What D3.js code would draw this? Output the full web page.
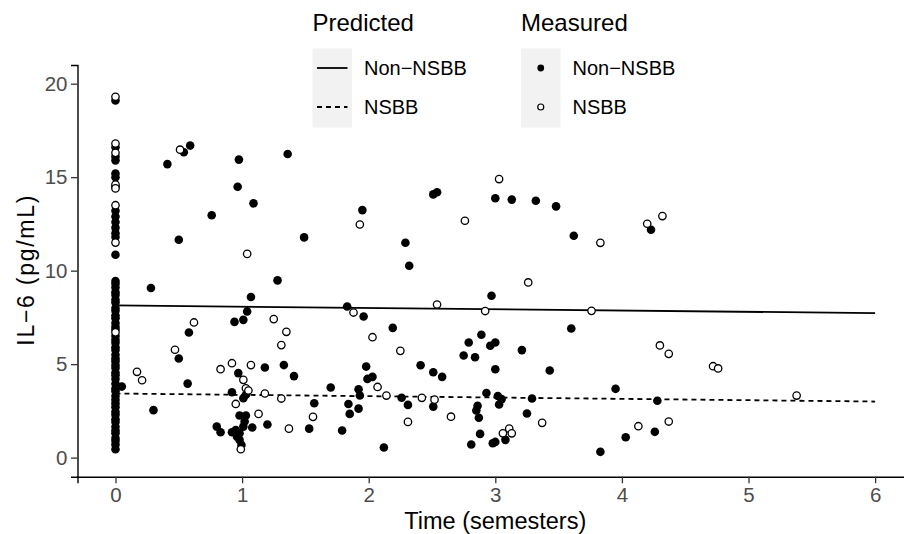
<!DOCTYPE html>
<html>
<head>
<meta charset="utf-8">
<script src="https://cdn.jsdelivr.net/npm/d3@7"></script>
<style>
  body { margin: 0; background: #fff; }
  text { font-family: "Liberation Sans", Arial, sans-serif; }
</style>
</head>
<body>
<div id="chart"></div>
<script>
// measured IL-6 values, [time, value]
var measuredNon = [
  [0, 19.1], [0, 16.6], [0, 16.1], [0, 15.9], [0, 15.2], [0, 15.0], [0, 14.5], [0, 13.2], [0, 12.9],
  [0, 12.6], [0, 12.3], [0, 12.0], [0, 11.8], [0, 10.85], [0, 9.45], [0, 9.3], [0, 9.1], [0, 8.85],
  [0, 8.7], [0, 8.45], [0, 8.3], [0, 8.0], [0, 7.85], [0, 7.6], [0, 7.45], [0, 7.2], [0, 7.0],
  [0, 6.85], [0, 6.5], [0, 6.3], [0, 6.15], [0, 5.9], [0, 5.75], [0, 5.5], [0, 5.3], [0, 5.15],
  [0, 4.95], [0, 4.8], [0, 4.55], [0, 4.4], [0, 4.2], [0, 3.95], [0, 3.7], [0, 3.55], [0, 3.3],
  [0, 3.1], [0, 2.9], [0, 2.7], [0, 2.45], [0, 2.3], [0, 2.05], [0, 1.9], [0, 1.65], [0, 1.45],
  [0, 1.3], [0, 1.05], [0, 0.9], [0, 0.7], [0, 0.45], [0.05, 3.8],
  [0.28, 9.07], [0.30, 2.54], [0.41, 15.7], [0.50, 11.65], [0.50, 5.3], [0.54, 16.33], [0.57, 3.96],
  [0.58, 6.69], [0.59, 16.69], [0.76, 12.96], [0.80, 1.66], [0.83, 1.36], [0.92, 3.5], [0.92, 1.36],
  [0.94, 7.26], [0.95, 1.48], [0.96, 1.12], [0.965, 14.49], [0.97, 4.52], [0.975, 15.94], [0.98, 2.25],
  [0.98, 1.3], [0.98, 0.95], [0.995, 0.68], [1.01, 7.37], [1.01, 3.18], [1.01, 1.66], [1.02, 1.93],
  [1.03, 3.36], [1.03, 2.25], [1.04, 7.82], [1.07, 8.59], [1.08, 1.61], [1.09, 13.6], [1.18, 4.82],
  [1.20, 1.77], [1.28, 9.48], [1.33, 4.95], [1.36, 16.24], [1.41, 4.36], [1.49, 11.78], [1.53, 1.55],
  [1.57, 2.91], [1.70, 3.75], [1.79, 1.45], [1.83, 8.08], [1.84, 2.87], [1.85, 2.34], [1.92, 3.66],
  [1.92, 2.62], [1.93, 3.32], [1.95, 13.24], [1.96, 7.55], [1.98, 4.87], [1.99, 4.21], [2.03, 4.32],
  [2.12, 0.54], [2.19, 6.94], [2.26, 3.2], [2.29, 11.49], [2.31, 2.82], [2.32, 10.26], [2.41, 4.94],
  [2.51, 14.08], [2.51, 4.57], [2.51, 2.73], [2.54, 14.19], [2.58, 4.32], [2.75, 5.46], [2.79, 6.16],
  [2.81, 0.7], [2.84, 5.37], [2.85, 2.52], [2.86, 2.77], [2.87, 2.13], [2.88, 1.27], [2.89, 6.57],
  [2.93, 3.46], [2.96, 5.98], [2.97, 8.66], [2.98, 0.77], [3.0, 13.87], [3.0, 6.16], [3.0, 4.73],
  [3.0, 0.84], [3.02, 3.3], [3.03, 2.84], [3.05, 3.13], [3.08, 0.95], [3.13, 13.8], [3.21, 5.75],
  [3.25, 2.36], [3.29, 3.16], [3.32, 13.74], [3.43, 4.66], [3.48, 13.44], [3.60, 6.91], [3.62, 11.87],
  [3.83, 0.31], [3.95, 3.68], [4.03, 1.09], [4.23, 12.19], [4.26, 1.38], [4.28, 3.04]
];
var measuredNSBB = [
  [0, 19.3], [0, 16.8], [0, 16.3], [0, 14.6], [0, 14.4], [0, 13.5], [0, 11.5], [0, 6.7],
  [0.17, 4.59], [0.21, 4.14], [0.47, 5.77], [0.51, 16.47], [0.62, 7.23], [0.83, 4.73], [0.92, 5.05],
  [0.95, 2.87], [0.99, 0.45], [1.01, 4.16], [1.03, 3.71], [1.04, 10.9], [1.05, 3.59], [1.07, 4.95],
  [1.13, 2.34], [1.18, 3.43], [1.25, 7.41], [1.31, 6.02], [1.31, 3.16], [1.35, 6.73], [1.37, 1.55],
  [1.56, 2.18], [1.88, 7.76], [1.93, 12.47], [2.03, 6.44], [2.07, 3.78], [2.14, 3.32], [2.25, 5.71],
  [2.31, 1.91], [2.42, 3.2], [2.52, 3.1], [2.54, 8.19], [2.65, 2.19], [2.76, 12.67], [2.92, 7.84],
  [3.03, 14.9], [3.06, 1.3], [3.11, 1.55], [3.13, 1.3], [3.26, 9.37], [3.37, 1.86], [3.76, 7.85],
  [3.83, 11.49], [4.13, 1.68], [4.20, 12.51], [4.30, 6.0], [4.32, 12.92], [4.37, 5.55], [4.37, 1.93],
  [4.72, 4.89], [4.76, 4.77], [5.38, 3.32]
];
// predicted trend lines
var predTime = [0, 6];
var predNon = [8.14, 7.73];
var predNSBB = [3.43, 3.0];

var xTicks = [0, 1, 2, 3, 4, 5, 6];
var yTicks = [0, 5, 10, 15, 20];
var groupNames = ["Non\u2212NSBB", "NSBB"];

var width = 904, height = 534;

var svg = d3.select("#chart").append("svg")
  .attr("width", width)
  .attr("height", height);

var x = d3.scaleLinear().domain([-0.3, 6.3]).range([77.5, 913.1]);
var y = d3.scaleLinear().domain([-1.02, 21.0]).range([476.7, 65]);

// axes
var xAxis = svg.append("g")
  .attr("transform", "translate(0,476.7)")
  .call(d3.axisBottom(x).tickValues(xTicks).tickSize(6.5).tickPadding(4).tickFormat(d3.format("d")));
var yAxis = svg.append("g")
  .attr("transform", "translate(77.5,0)")
  .call(d3.axisLeft(y).tickValues(yTicks).tickSize(6.5).tickPadding(3.5).tickFormat(d3.format("d")));

[xAxis, yAxis].forEach(function(g) {
  g.select(".domain").attr("stroke", "#000").attr("stroke-width", 1.4);
  g.selectAll(".tick line").attr("stroke", "#333").attr("stroke-width", 1.3);
  g.selectAll(".tick text")
    .attr("fill", "#4d4d4d")
    .style("font-size", "20.5px")
    .style("font-family", "'Liberation Sans', Arial, sans-serif");
});

svg.append("text")
  .attr("x", x(3))
  .attr("y", 529)
  .attr("text-anchor", "middle")
  .style("font-size", "23.5px")
  .text("Time (semesters)");

svg.append("text")
  .attr("transform", "translate(34," + y(10) + ") rotate(-90)")
  .attr("text-anchor", "middle")
  .attr("textLength", 150)
  .attr("lengthAdjust", "spacing")
  .style("font-size", "23px")
  .text("IL\u22126 (pg/mL)");

// predicted lines
var line = d3.line().x(d => x(d[0])).y(d => y(d[1]));
svg.append("path")
  .datum(predTime.map((t, i) => [t, predNon[i]]))
  .attr("d", line)
  .attr("fill", "none")
  .attr("stroke", "#000")
  .attr("stroke-width", 1.8);
svg.append("path")
  .datum(predTime.map((t, i) => [t, predNSBB[i]]))
  .attr("d", line)
  .attr("fill", "none")
  .attr("stroke", "#000")
  .attr("stroke-width", 1.8)
  .attr("stroke-dasharray", "5,4");

// measured points
svg.append("g").selectAll("circle")
  .data(measuredNon)
  .enter()
  .append("circle")
  .attr("cx", d => x(d[0]))
  .attr("cy", d => y(d[1]))
  .attr("r", 4.3)
  .attr("fill", "#000");

svg.append("g").selectAll("circle")
  .data(measuredNSBB)
  .enter()
  .append("circle")
  .attr("cx", d => x(d[0]))
  .attr("cy", d => y(d[1]))
  .attr("r", 3.7)
  .attr("fill", "#fff")
  .attr("stroke", "#000")
  .attr("stroke-width", 1.3);

// legends
function legend(x0, title, drawKey) {
  var g = svg.append("g").attr("transform", "translate(" + x0 + ",0)");
  g.append("text").attr("x", 0).attr("y", 30.5).style("font-size", "24px").text(title);
  g.append("rect").attr("x", 0).attr("y", 48.5).attr("width", 39.5).attr("height", 79).attr("fill", "#f2f2f2");
  groupNames.forEach(function(name, i) {
    var ky = 68 + i * 39;
    drawKey(g, i, ky);
    g.append("text").attr("x", 51.5).attr("y", ky + 7).style("font-size", "20px").text(name);
  });
}

legend(312.5, "Predicted", function(g, i, ky) {
  g.append("line")
    .attr("x1", 4.5).attr("x2", 35).attr("y1", ky).attr("y2", ky)
    .attr("stroke", "#000").attr("stroke-width", 1.8)
    .attr("stroke-dasharray", i === 0 ? null : "5,4");
});

legend(521, "Measured", function(g, i, ky) {
  g.append("circle")
    .attr("cx", 19.75).attr("cy", ky)
    .attr("r", i === 0 ? 3.4 : 3)
    .attr("fill", i === 0 ? "#000" : "#fff")
    .attr("stroke", "#000")
    .attr("stroke-width", i === 0 ? 0 : 1.2);
});
</script>
</body>
</html>
